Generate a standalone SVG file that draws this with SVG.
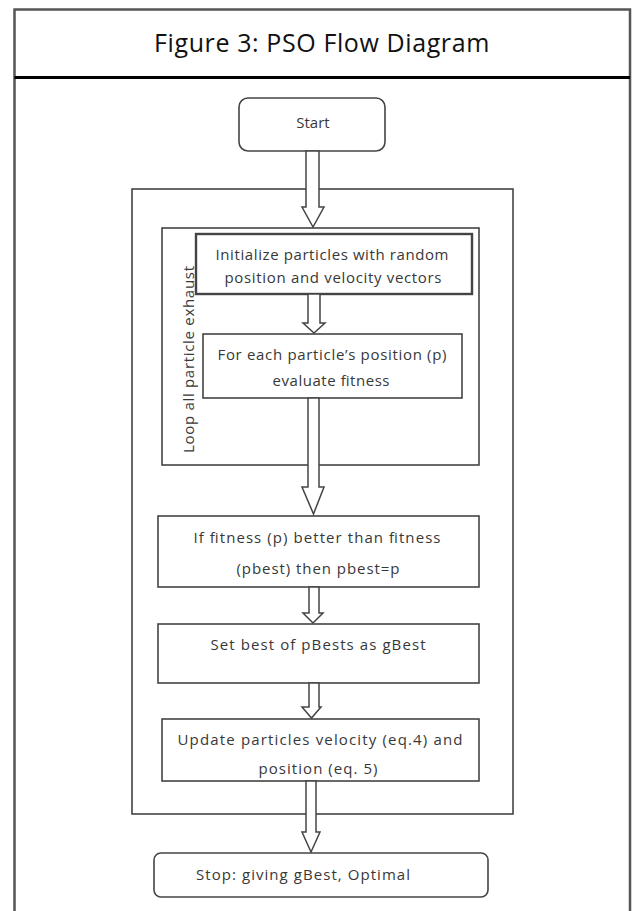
<svg xmlns="http://www.w3.org/2000/svg" width="633" height="911" viewBox="0 0 633 911">
<style>
.frame{fill:none;stroke:#555;stroke-width:2.5}
.hdr{fill:none;stroke:#000;stroke-width:3}
.title{font-family:"Open Sans","Liberation Sans",sans-serif;font-size:25px;fill:#111;text-anchor:middle;letter-spacing:0.6px}
.box{fill:#fff;stroke:#444;stroke-width:1.6}
.loop{fill:none;stroke:#444;stroke-width:1.6}
.lbl{font-family:"Open Sans","Liberation Sans",sans-serif;font-size:15px;fill:#383838;text-anchor:middle}
.arr{fill:#fff;stroke:#444;stroke-width:1.5;stroke-linejoin:miter}
</style>
<rect width="633" height="911" fill="#fff"/>
<g id="frame">
<path class="frame" d="M14.5,911 V9.5 H630 V911"/>
<path class="hdr" d="M14.5,77.5 H630"/>
<text class="title" x="322" y="52">Figure 3: PSO Flow Diagram</text>
</g>
<g id="outer-loop"><rect class="loop" x="132" y="189" width="381" height="625"/></g>
<g id="inner-loop">
<rect class="loop" x="162" y="228" width="317" height="237"/>
<text class="lbl" style="text-anchor:start" transform="translate(194,453) rotate(-90)" textLength="187">Loop all particle exhaust</text>
</g>
<g id="start">
<rect class="box" x="239" y="98" width="146" height="53" rx="9"/>
<text class="lbl" x="313" y="128">Start</text>
</g>
<g id="init">
<rect class="box" x="196" y="234" width="276" height="60" style="stroke-width:2.4"/>
<text class="lbl" x="332" y="260" textLength="233">Initialize particles with random</text>
<text class="lbl" x="333" y="283" textLength="217">position and velocity vectors</text>
</g>
<g id="evaluate">
<rect class="box" x="203" y="334" width="259" height="64"/>
<text class="lbl" x="332" y="360" textLength="229">For each particle’s position (p)</text>
<text class="lbl" x="331" y="386" textLength="117">evaluate fitness</text>
</g>
<g id="pbest">
<rect class="box" x="158" y="516" width="321" height="71"/>
<text class="lbl" x="317" y="543" textLength="247">If fitness (p) better than fitness</text>
<text class="lbl" x="318" y="574" textLength="163">(pbest) then pbest=p</text>
</g>
<g id="gbest">
<rect class="box" x="158" y="624" width="321" height="59"/>
<text class="lbl" x="318" y="650" textLength="215">Set best of pBests as gBest</text>
</g>
<g id="update">
<rect class="box" x="162" y="719" width="317" height="62"/>
<text class="lbl" x="320" y="745" textLength="285">Update particles velocity (eq.4) and</text>
<text class="lbl" x="318" y="774" textLength="119">position (eq. 5)</text>
</g>
<g id="stop">
<rect class="box" x="154" y="853" width="334" height="44" rx="7"/>
<text class="lbl" x="303" y="880" textLength="214">Stop: giving gBest, Optimal</text>
</g>
<g id="connectors">
<polygon class="arr" points="306,151 319,151 319,207 324,207 313,227 302,207 306,207"/>
<polygon class="arr" points="308,294 320,294 320,323 325,323 314,333 303,323 308,323"/>
<polygon class="arr" points="308,398 319,398 319,487 324,487 313.5,514 302,487 308,487"/>
<polygon class="arr" points="309,587 319,587 319,613 323,613 313,623 303,613 309,613"/>
<polygon class="arr" points="309,683 319,683 319,707 321,707 311.5,718 302,707 309,707"/>
<polygon class="arr" points="306,781 316,781 316,832 320,832 311,852 302,832 306,832"/>
</g>
</svg>
